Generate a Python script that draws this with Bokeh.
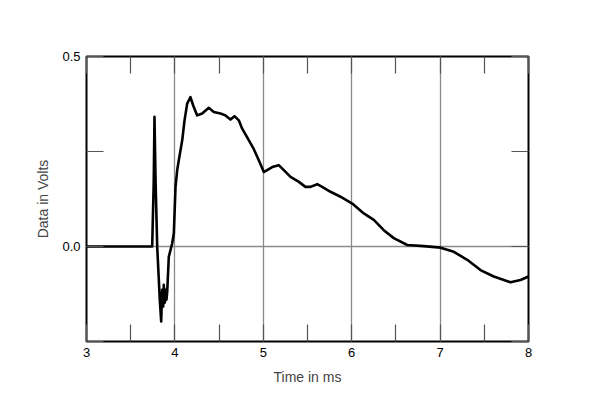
from bokeh.plotting import figure
from bokeh.models import FixedTicker, LinearAxis, Range1d, Grid, CustomJSTickFormatter
from bokeh.embed import file_html
from bokeh.resources import INLINE

# Impulse response data (time in ms, data in volts)
time_ms = [3.000, 3.743, 3.761, 3.769, 3.781, 3.800, 3.829, 3.845, 3.856, 3.868,
           3.874, 3.886, 3.897, 3.905, 3.913, 3.931, 3.969, 3.988, 4.007, 4.026,
           4.044, 4.083, 4.109, 4.139, 4.176, 4.207, 4.252, 4.309, 4.383, 4.440,
           4.516, 4.572, 4.629, 4.674, 4.723, 4.761, 4.818, 4.893, 4.949, 5.006,
           5.044, 5.101, 5.175, 5.232, 5.308, 5.402, 5.477, 5.534, 5.610, 5.666,
           5.760, 5.873, 6.006, 6.137, 6.250, 6.363, 6.476, 6.628, 6.816, 7.005,
           7.155, 7.307, 7.457, 7.607, 7.796, 7.910, 8.000]
volts = [0.000, 0.000, 0.175, 0.341, 0.175, -0.001, -0.140, -0.197, -0.114, -0.158,
         -0.101, -0.148, -0.114, -0.140, -0.119, -0.027, 0.008, 0.035, 0.157, 0.201,
         0.227, 0.280, 0.332, 0.376, 0.393, 0.371, 0.345, 0.350, 0.365, 0.354,
         0.350, 0.345, 0.334, 0.343, 0.332, 0.310, 0.287, 0.256, 0.227, 0.196,
         0.201, 0.209, 0.214, 0.201, 0.183, 0.170, 0.157, 0.157, 0.164, 0.157,
         0.144, 0.131, 0.113, 0.087, 0.070, 0.043, 0.022, 0.004, 0.001, -0.003,
         -0.014, -0.035, -0.062, -0.079, -0.094, -0.088, -0.079]

x_ticks = [3, 3.5, 4, 4.5, 5, 5.5, 6, 6.5, 7, 7.5, 8]
x_labels = {"3": "3", "4": "4", "5": "5", "6": "6", "7": "7", "8": "8"}
y_ticks = [-0.25, 0.0, 0.25, 0.5]
y_labels = {"0": "0.0", "0.5": "0.5"}
x_grid = [4, 5, 6, 7]
y_grid = [0.0]

FONT = "Liberation Sans"
GRID = "#8a8a8a"
TICK = "#555555"

p = figure(width=600, height=407, output_backend="svg", toolbar_location=None,
           x_range=Range1d(3, 8), y_range=Range1d(-0.25, 0.5),
           x_axis_location=None, y_axis_location=None,
           min_border_left=86, min_border_right=72,
           min_border_top=56, min_border_bottom=66)
for g in p.grid:
    g.visible = False
p.outline_line_color = "black"
p.outline_line_width = 2
p.background_fill_color = "white"
p.border_fill_color = "white"

def style_axis(ax, ticks, labels, show_labels):
    ax.ticker = FixedTicker(ticks=ticks)
    ax.axis_line_color = None
    ax.major_tick_in = 17
    ax.major_tick_out = 0
    ax.major_tick_line_color = TICK
    ax.major_tick_line_width = 1.2
    ax.minor_tick_line_color = None
    if not show_labels:
        ax.major_label_text_font_size = "0px"
        ax.major_label_text_color = None
    else:
        ax.major_label_overrides = labels
        ax.formatter = CustomJSTickFormatter(
            args=dict(lab=labels),
            code="const k = String(Math.round(tick*100)/100); return (k in lab) ? lab[k] : '';")
        ax.major_label_text_font = FONT
        ax.major_label_text_font_size = "13px"
        ax.major_label_text_color = "black"

xb = LinearAxis(axis_label="Time in ms")
style_axis(xb, x_ticks, x_labels, True)
xb.major_label_standoff = 6
xb.axis_label_text_font = FONT
xb.axis_label_text_font_size = "14px"
xb.axis_label_text_font_style = "normal"
xb.axis_label_standoff = 9
p.add_layout(xb, "below")

xt = LinearAxis()
style_axis(xt, x_ticks, x_labels, False)
p.add_layout(xt, "above")

yl = LinearAxis(axis_label="Data in Volts")
style_axis(yl, y_ticks, y_labels, True)
yl.major_label_standoff = 6
yl.axis_label_text_font = FONT
yl.axis_label_text_font_size = "14px"
yl.axis_label_text_font_style = "normal"
yl.axis_label_standoff = 8
p.add_layout(yl, "left")

yr = LinearAxis()
style_axis(yr, y_ticks, y_labels, False)
p.add_layout(yr, "right")

p.add_layout(Grid(dimension=0, ticker=FixedTicker(ticks=x_grid),
                  grid_line_color=GRID, grid_line_width=1.3))
p.add_layout(Grid(dimension=1, ticker=FixedTicker(ticks=y_grid),
                  grid_line_color=GRID, grid_line_width=1.3))

p.line(time_ms, volts, line_color="black", line_width=2.6, line_join="round")

open("out.html", "w").write(file_html(p, INLINE))
